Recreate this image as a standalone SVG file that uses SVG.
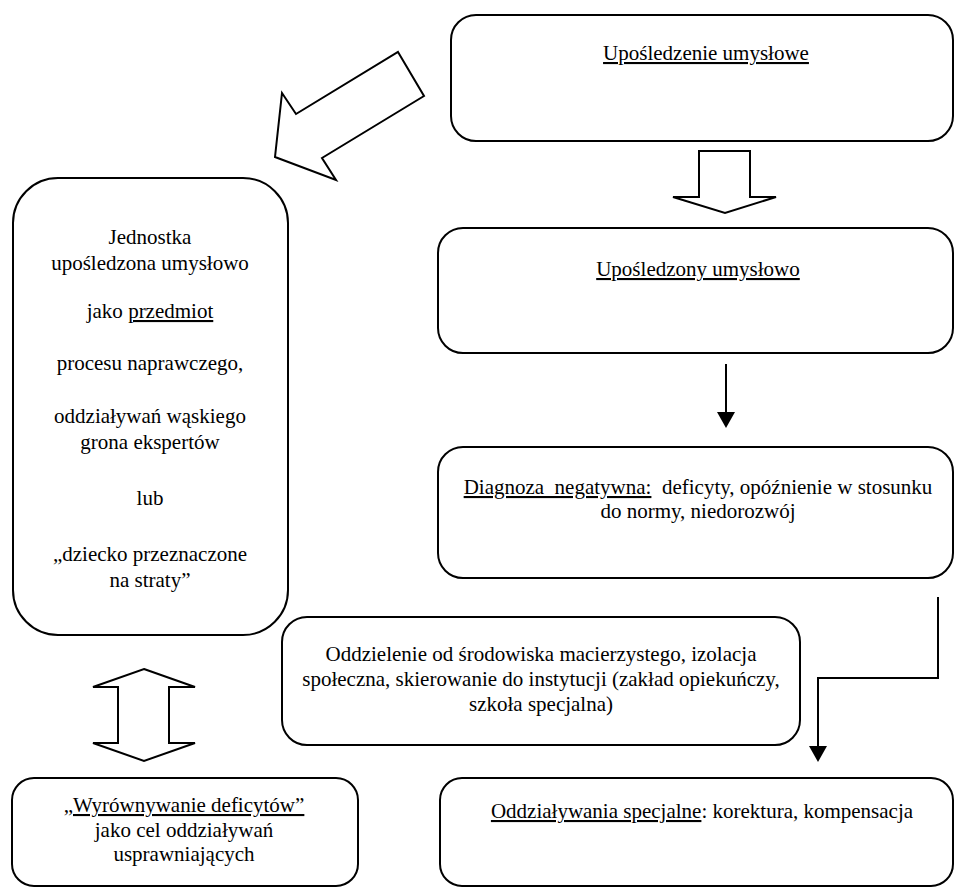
<svg xmlns="http://www.w3.org/2000/svg" width="955" height="888" viewBox="0 0 955 888">
<style>
.box{fill:#fff;stroke:#000;stroke-width:2}
.harrow{fill:#fff;stroke:#000;stroke-width:2;stroke-linejoin:miter}
.line{fill:none;stroke:#000;stroke-width:2}
.head{fill:#000;stroke:none}
text{font-family:"Liberation Serif","Times New Roman",serif;font-size:21px;fill:#000;text-anchor:middle;white-space:pre}
.u{text-decoration:underline}
</style>
<rect width="955" height="888" fill="#fff"/>
<g id="connectors">
<polygon class="harrow" points="398,52 424,96 322,158 336,180 275,157 282,93 296,114"/>
<polygon class="harrow" points="699,151 750,151 750,197 776,197 725,213 673,197 699,197"/>
<line class="line" x1="726" y1="364" x2="726" y2="413"/>
<polygon class="head" points="717,412 735,412 726,428"/>
<polyline class="line" points="938,597 938,678 818,678 818,747"/>
<polygon class="head" points="809,746 827,746 818,762"/>
<polygon class="harrow" points="144,669 195,687 169,687 169,743 195,743 144,761 93,743 118,743 118,687 93,687"/>
</g>
<g id="n1">
<rect class="box" x="451" y="15" width="502" height="126" rx="25"/>
<text x="706" y="60"><tspan class="u">Upośledzenie umysłowe</tspan></text>
</g>
<g id="n2">
<rect class="box" x="438" y="228" width="515" height="125" rx="25"/>
<text x="698" y="276"><tspan class="u">Upośledzony umysłowo</tspan></text>
</g>
<g id="n3">
<rect class="box" x="438" y="447" width="515" height="131" rx="25"/>
<text x="698" y="494"><tspan class="u">Diagnoza  negatywna:</tspan>  deficyty, opóźnienie w stosunku</text>
<text x="698" y="518">do normy, niedorozwój</text>
</g>
<g id="n4">
<rect class="box" x="282" y="617" width="518" height="128" rx="25"/>
<text x="541" y="661">Oddzielenie od środowiska macierzystego, izolacja</text>
<text x="541" y="686">społeczna, skierowanie do instytucji (zakład opiekuńczy,</text>
<text x="541" y="711">szkoła specjalna)</text>
</g>
<g id="n5">
<rect class="box" x="13" y="178" width="275" height="457" rx="45"/>
<text x="150" y="244">Jednostka</text>
<text x="150" y="270">upośledzona umysłowo</text>
<text x="150" y="318">jako <tspan class="u">przedmiot</tspan></text>
<text x="150" y="370">procesu naprawczego,</text>
<text x="150" y="423">oddziaływań wąskiego</text>
<text x="150" y="449">grona ekspertów</text>
<text x="150" y="505">lub</text>
<text x="150" y="561">„dziecko przeznaczone</text>
<text x="150" y="587">na straty”</text>
</g>
<g id="n6">
<rect class="box" x="12" y="778" width="346" height="108" rx="22"/>
<text x="184" y="812"><tspan class="u">„Wyrównywanie deficytów”</tspan></text>
<text x="184" y="837">jako cel oddziaływań</text>
<text x="184" y="861">usprawniających</text>
</g>
<g id="n7">
<rect class="box" x="440" y="778" width="513" height="108" rx="22"/>
<text x="702" y="818"><tspan class="u">Oddziaływania specjalne</tspan>: korektura, kompensacja</text>
</g>
</svg>
